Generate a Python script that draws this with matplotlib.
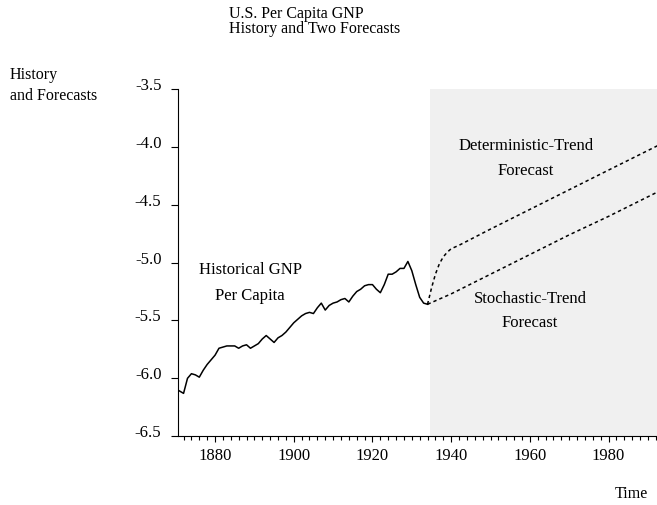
import numpy as np
import matplotlib
matplotlib.use("Agg")
import matplotlib.pyplot as plt
from matplotlib.ticker import MultipleLocator

plt.rcParams['font.family'] = ['Liberation Serif', 'DejaVu Serif']

# history: log per capita GNP
hist_years = list(range(1870, 1935))
hist_values = [-6.09, -6.11, -6.13, -6.00, -5.96, -5.97, -5.99, -5.93, -5.88, -5.84,
               -5.80, -5.74, -5.73, -5.72, -5.72, -5.72, -5.74, -5.72, -5.71, -5.74,
               -5.72, -5.70, -5.66, -5.63, -5.66, -5.69, -5.65, -5.63, -5.60, -5.56,
               -5.52, -5.49, -5.46, -5.44, -5.43, -5.44, -5.39, -5.35, -5.41, -5.37,
               -5.35, -5.34, -5.32, -5.31, -5.34, -5.29, -5.25, -5.23, -5.20, -5.19,
               -5.19, -5.23, -5.26, -5.19, -5.10, -5.10, -5.08, -5.05, -5.05, -4.99,
               -5.07, -5.19, -5.30, -5.35, -5.36]

# deterministic-trend forecast
det_years = [1934, 1935, 1936, 1937, 1938, 1939, 1940, 1942, 1950, 1960, 1970, 1980, 1993]
det_values = [-5.36, -5.22, -5.10, -5.01, -4.95, -4.91, -4.88, -4.85, -4.71, -4.54, -4.37, -4.20, -3.98]

# stochastic-trend forecast
sto_years = [1934, 1936, 1940, 1950, 1960, 1970, 1980, 1993]
sto_values = [-5.36, -5.33, -5.27, -5.10, -4.93, -4.76, -4.60, -4.38]

forecast_start = 1934.7
ytick_vals = [-6.5, -6.0, -5.5, -5.0, -4.5, -4.0, -3.5]
ytick_labels = ['-6.5', '-6.0', '-5.5', '-5.0', '-4.5', '-4.0', '-3.5']

fig = plt.figure(figsize=(6.57, 5.06), dpi=100)
ax = fig.add_axes([0.271, 0.136, 0.729, 0.686])

ax.axvspan(forecast_start, 2000, color='#f0f0f0', lw=0, zorder=0)
ax.plot(hist_years, hist_values, color='black', lw=1.1)
ax.plot(det_years, det_values, color='black', lw=1.1, ls=(0, (2.2, 2)))
ax.plot(sto_years, sto_values, color='black', lw=1.1, ls=(0, (2.2, 2)))

ax.set_xlim(1870.6, 1992.3)
ax.set_ylim(-6.5, -3.5)
ax.xaxis.set_major_locator(MultipleLocator(20))
ax.xaxis.set_minor_locator(MultipleLocator(2))
ax.set_yticks(ytick_vals)
ax.set_yticklabels(ytick_labels)
for t in ax.get_yticklabels():
    t.set_va('baseline')

for s in ['top', 'right']:
    ax.spines[s].set_visible(False)
ax.tick_params(axis='x', which='major', length=4, width=0.8, labelsize=12, pad=4)
ax.tick_params(axis='x', which='minor', length=3, width=0.8)
ax.tick_params(axis='y', which='major', length=5, width=0.8, labelsize=12, pad=7)

fig.text(0.349, 0.988, "U.S. Per Capita GNP\nHistory and Two Forecasts",
         ha='left', va='top', fontsize=11.5, linespacing=0.87)
fig.text(0.015, 0.868, "History\nand Forecasts", ha='left', va='top',
         fontsize=11.5, linespacing=1.45)
fig.text(0.986, 0.024, "Time", ha='right', va='center', fontsize=11.5)

ax.text(1888.9, -5.17, "Historical GNP\nPer Capita", ha='center', va='center',
        fontsize=12, linespacing=1.8)
ax.text(1959, -4.09, "Deterministic-Trend\nForecast", ha='center', va='center',
        fontsize=12, linespacing=1.8)
ax.text(1960, -5.41, "Stochastic-Trend\nForecast", ha='center', va='center',
        fontsize=12, linespacing=1.65)

fig.savefig("out.png", dpi=100)
